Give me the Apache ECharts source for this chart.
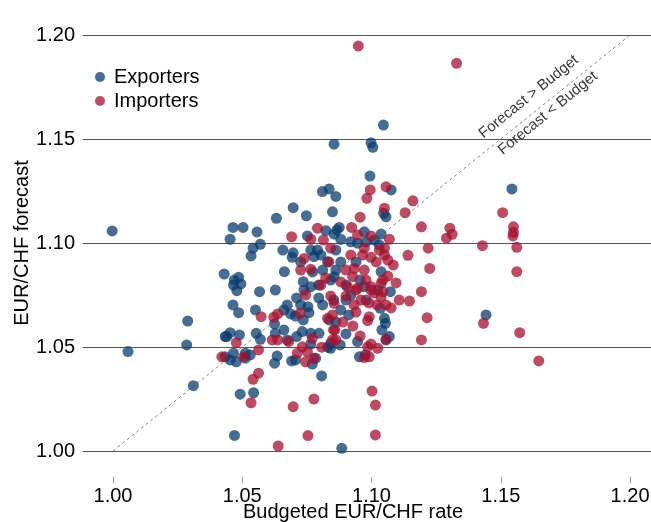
<!DOCTYPE html>
<html>
<head>
<meta charset="utf-8">
<script src="https://cdn.jsdelivr.net/npm/echarts@6/dist/echarts.min.js"></script>
<style>
  html, body { margin: 0; padding: 0; background: #fff; }
  #chart { width: 651px; height: 522px; }
</style>
</head>
<body>
<div id="chart"></div>
<script>
// budget rate (x) vs forecast (y)
const exporters = [
  [0.9997,1.1058],[1.0058,1.0478],[1.0289,1.0625],[1.0285,1.0510],[1.0311,1.0314],[1.0434,1.0550],[1.0430,1.0851],
  [1.0810,1.1247],[1.0836,1.1260],[1.0862,1.1224],[1.0697,1.1170],[1.0632,1.1119],[1.0748,1.1131],[1.0849,1.1150],
  [1.0464,1.1075],[1.0503,1.1075],[1.0557,1.1053],[1.0453,1.1018],[1.0570,1.0994],[1.0542,1.0975],[1.0534,1.0938],
  [1.0657,1.0966],[1.0697,1.0953],[1.0693,1.0931],[1.0752,1.1034],[1.0823,1.1059],[1.0765,1.0966],[1.0791,1.0966],
  [1.0777,1.0934],[1.0804,1.0942],[1.0830,1.0910],[1.0663,1.0862],[1.0469,1.0822],[1.0486,1.0835],[1.0495,1.0803],
  [1.0466,1.0798],[1.0479,1.0771],[1.0567,1.0766],[1.0628,1.0774],[1.0736,1.0814],[1.0765,1.0790],[1.0739,1.0774],
  [1.1076,1.1255],[1.1047,1.1143],[1.1056,1.1126],[1.0875,1.1075],[1.0866,1.1063],[1.0855,1.1043],[1.0881,1.1018],
  [1.0862,1.0966],[1.0972,1.1054],[1.1037,1.1043],[1.0920,1.1006],[1.0946,1.0999],[1.0979,1.1006],[1.1011,1.1014],
  [1.1030,1.0990],[1.0862,1.0870],[1.0855,1.0838],[1.0842,1.0822],[1.1037,1.0862],[1.0956,1.0822],[1.0972,1.0790],
  [1.1073,1.0766],[1.1024,1.0774],[1.1543,1.1260],[1.1443,1.0654],[1.1046,1.1567],[1.0855,1.1475],[1.0998,1.1482],
  [1.1005,1.1460],[1.0994,1.1322],[1.0464,1.0702],[1.0486,1.0665],[1.0551,1.0678],[1.0661,1.0678],[1.0674,1.0702],
  [1.0687,1.0659],[1.0706,1.0649],[1.0726,1.0702],[1.0754,1.0694],[1.0758,1.0665],[1.0736,1.0630],[1.0836,1.0630],
  [1.0625,1.0611],[1.0628,1.0566],[1.0661,1.0582],[1.0440,1.0550],[1.0453,1.0569],[1.0489,1.0558],[1.0554,1.0566],
  [1.0570,1.0537],[1.0674,1.0534],[1.0710,1.0550],[1.0732,1.0574],[1.0765,1.0514],[1.0797,1.0566],[1.0765,1.0566],
  [1.0830,1.0499],[1.0842,1.0494],[1.0434,1.0453],[1.0453,1.0438],[1.0477,1.0429],[1.0466,1.0470],[1.0512,1.0470],
  [1.0531,1.0462],[1.0512,1.0446],[1.0625,1.0422],[1.0635,1.0457],[1.0691,1.0433],[1.0706,1.0438],[1.0771,1.0418],
  [1.0784,1.0446],[1.0807,1.0361],[1.0492,1.0273],[1.0544,1.0280],[1.0470,1.0075],[1.0885,1.0013],[1.1034,1.0686],
  [1.1050,1.0638],[1.1054,1.0614],[1.1040,1.0582],[1.1069,1.0550],[1.1056,1.0534],[1.0901,1.0563],[1.0946,1.0526],
  [1.0842,1.0518],[1.0879,1.0510],[1.0953,1.0453],[1.0976,1.0462],[1.0920,1.0750],[1.0854,1.0726],[1.0881,1.0678],
  [1.0862,1.0620],[1.0901,1.0726],[1.0796,1.0736],[1.0811,1.0702],[1.0912,1.0654],[1.0772,1.0861],[1.0796,1.0798],
  [1.0710,1.0736],[1.0881,1.0909],[1.0940,1.0909],[1.0901,1.0798],[1.0811,1.0870],[1.0979,1.0726],[1.0726,1.0909]
];
const importers = [
  [1.0949,1.1947],[1.1329,1.1864],[1.1056,1.1271],[1.0995,1.1255],[1.0982,1.1215],[1.1050,1.1167],[1.1160,1.1203],
  [1.1130,1.1146],[1.0956,1.1124],[1.1193,1.1078],[1.0923,1.1075],[1.0791,1.1071],[1.0691,1.1030],[1.0765,1.1018],
  [1.0814,1.1014],[1.0842,1.0975],[1.0739,1.0926],[1.0726,1.0870],[1.0765,1.0874],[1.0946,1.1039],[1.0998,1.1034],
  [1.1069,1.1018],[1.0920,1.0942],[1.0966,1.0942],[1.0998,1.0931],[1.1030,1.0966],[1.1050,1.0942],[1.1063,1.0918],
  [1.1050,1.0975],[1.0972,1.0975],[1.1141,1.0941],[1.1219,1.0975],[1.1225,1.0878],[1.0933,1.0878],[1.0927,1.0838],
  [1.0972,1.0870],[1.0979,1.0822],[1.0998,1.0790],[1.1037,1.0806],[1.1063,1.0841],[1.1044,1.0822],[1.1193,1.0766],
  [1.1507,1.1146],[1.1303,1.1071],[1.1312,1.1042],[1.1290,1.1023],[1.1549,1.1078],[1.1549,1.1051],[1.1547,1.1034],
  [1.1429,1.0987],[1.1562,1.0979],[1.1562,1.0862],[1.1433,1.0614],[1.1573,1.0569],[1.1647,1.0433],[1.0745,1.0750],
  [1.0573,1.0646],[1.0622,1.0643],[1.0637,1.0659],[1.0723,1.0662],[1.0830,1.0638],[1.0849,1.0654],[1.0855,1.0710],
  [1.0477,1.0521],[1.0616,1.0534],[1.0637,1.0534],[1.0680,1.0526],[1.0771,1.0542],[1.0732,1.0501],[1.0752,1.0477],
  [1.0713,1.0470],[1.0777,1.0446],[1.0745,1.0429],[1.0807,1.0499],[1.0849,1.0534],[1.0853,1.0582],[1.0563,1.0486],
  [1.0421,1.0453],[1.0505,1.0453],[1.0563,1.0374],[1.0542,1.0345],[1.0534,1.0232],[1.0697,1.0213],[1.0777,1.0250],
  [1.0754,1.0074],[1.0639,1.0024],[1.1147,1.0721],[1.1215,1.0641],[1.1193,1.0534],[1.0991,1.0646],[1.0985,1.0627],
  [1.1056,1.0537],[1.0858,1.0582],[1.0862,1.0534],[1.0956,1.0553],[1.0998,1.0514],[1.1024,1.0494],[1.0985,1.0501],
  [1.0972,1.0449],[1.0991,1.0453],[1.1002,1.0288],[1.1015,1.0221],[1.1015,1.0077],[1.1010,1.0760],[1.1037,1.0740],
  [1.1056,1.0702],[1.1021,1.0702],[1.0990,1.0712],[1.0959,1.0726],[1.0932,1.0702],[1.0940,1.0668],[1.0901,1.0745],
  [1.0842,1.0745],[1.0889,1.0620],[1.0928,1.0601],[1.0804,1.0798],[1.0881,1.0813],[1.0947,1.0784],[1.1084,1.0894],
  [1.1095,1.0808],[1.1107,1.0726],[1.1076,1.0688],[1.1018,1.0909],[1.0901,1.0870],[1.0823,1.0832],[1.0835,1.0909],
  [1.0907,1.0790],[1.0940,1.0774],[1.0998,1.0774],[1.1044,1.0766]
];
// 45 degree line and its two labels
const diagonal = [[1.00, 1.00], [1.20, 1.20]];
const notes = [
  { name: 'Forecast > Budget', value: [1.1608, 1.1703] },
  { name: 'Forecast < Budget', value: [1.1682, 1.1624] }
];
const xTicks = [1.00, 1.05, 1.10, 1.15, 1.20];

const chart = echarts.init(document.getElementById('chart'));
const font = '"Liberation Sans", Arial, sans-serif';

const dotStyle = {
  type: 'scatter',
  symbol: 'circle',
  symbolSize: 11,
  emphasis: { disabled: true }
};

const option = {
  animation: false,
  textStyle: { fontFamily: font },
  grid: { left: 83, right: 0, top: 35, bottom: 71, outerBoundsMode: 'none', containLabel: false },
  legend: {
    orient: 'vertical',
    left: 90,
    top: 62,
    itemWidth: 18,
    itemHeight: 10,
    itemGap: 4,
    textStyle: { fontSize: 20, color: '#000', fontFamily: font },
    data: [
      { name: 'Exporters', icon: 'circle' },
      { name: 'Importers', icon: 'circle' }
    ]
  },
  xAxis: {
    type: 'value',
    min: 0.9884,
    max: 1.2081,
    offset: 26,
    name: 'Budgeted EUR/CHF rate',
    nameLocation: 'middle',
    nameGap: 25,
    nameMoveOverlap: false,
    nameTextStyle: { fontSize: 20, color: '#000', padding: [0, 28, 0, 0] },
    axisLine: { show: false },
    axisTick: { show: true, length: 6, customValues: xTicks, lineStyle: { color: '#999' } },
    axisLabel: {
      customValues: xTicks,
      fontSize: 20, color: '#000', margin: 9,
      formatter: v => v.toFixed(2)
    },
    splitLine: { show: false }
  },
  yAxis: {
    type: 'value',
    min: 1.00,
    max: 1.20,
    interval: 0.05,
    name: 'EUR/CHF forecast',
    nameLocation: 'middle',
    nameGap: 51,
    nameMoveOverlap: false,
    nameTextStyle: { fontSize: 20, color: '#000' },
    axisLine: { show: false },
    axisTick: { show: false },
    axisLabel: { fontSize: 20, color: '#000', margin: 8, formatter: v => v.toFixed(2) },
    splitLine: { show: true, lineStyle: { color: '#555', width: 1 } }
  },
  series: [
    {
      name: 'diagonal',
      type: 'line',
      data: diagonal,
      symbol: 'none',
      silent: true,
      z: 1,
      lineStyle: { color: '#666', width: 0.8, type: [3, 3] }
    },
    {
      ...dotStyle,
      name: 'Exporters',
      data: exporters,
      z: 3,
      itemStyle: { color: '#0b3c6d', opacity: 0.75 }
    },
    {
      ...dotStyle,
      name: 'Importers',
      data: importers,
      z: 3,
      itemStyle: { color: '#a5102f', opacity: 0.75 }
    },
    {
      name: 'notes',
      type: 'scatter',
      data: notes,
      symbolSize: 0,
      silent: true,
      z: 4,
      label: {
        show: true,
        position: 'inside',
        formatter: p => p.name,
        rotate: 39,
        fontSize: 15,
        color: '#000',
        fontFamily: font
      }
    }
  ]
};

chart.setOption(option);
</script>
</body>
</html>
